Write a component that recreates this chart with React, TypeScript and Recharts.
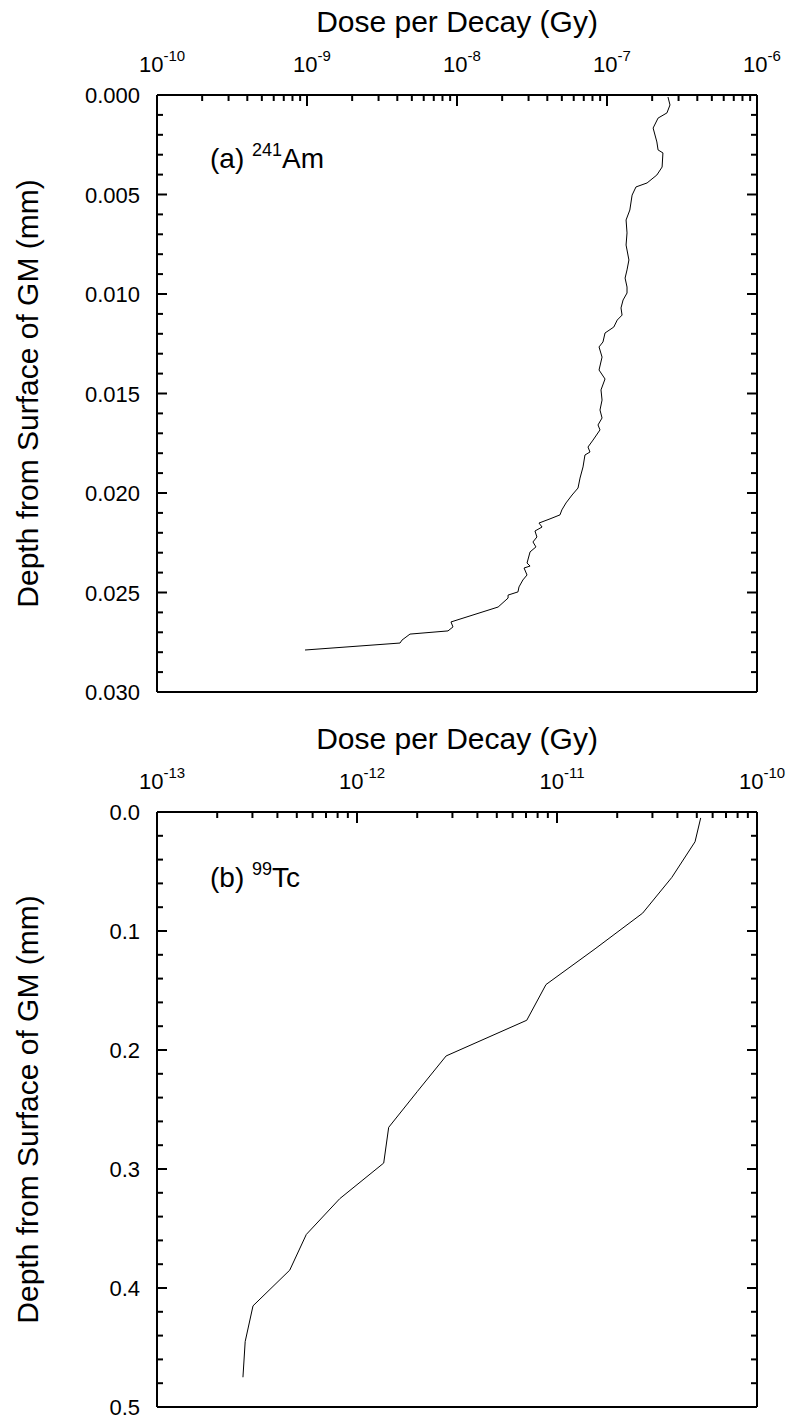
import { LineChart, Line, XAxis, YAxis, Label } from "recharts";

// (a) 241Am — depth (mm) vs dose per decay (Gy)
const amDepth = [
  0.0001, 0.0005, 0.0009, 0.00116, 0.00166, 0.00236, 0.00276, 0.00291, 0.00362, 0.00402,
  0.00442, 0.00462, 0.00503, 0.00578, 0.00628, 0.00693, 0.00754, 0.00829, 0.00879, 0.0092,
  0.00965, 0.00995, 0.0103, 0.0107, 0.01106, 0.01131, 0.01166, 0.01196, 0.01241, 0.01266,
  0.01317, 0.01382, 0.01427, 0.01482, 0.01533, 0.01583, 0.01623, 0.01658, 0.01683, 0.01734,
  0.01769, 0.01794, 0.01809, 0.01869, 0.01925, 0.01975, 0.0201, 0.0205, 0.02085, 0.0211,
  0.0213, 0.02151, 0.02171, 0.02191, 0.02221, 0.02246, 0.02271, 0.02296, 0.02352, 0.02367,
  0.02377, 0.02412, 0.02437, 0.02472, 0.02497, 0.02513, 0.02528, 0.02573, 0.02648, 0.02673,
  0.02693, 0.02709, 0.02739, 0.02754, 0.02789,
];
const amDose = [
  2.55e-7, 2.63e-7, 2.51e-7, 2.19e-7, 2.03e-7, 2.15e-7, 2.19e-7, 2.36e-7, 2.33e-7, 2.15e-7,
  1.85e-7, 1.56e-7, 1.47e-7, 1.42e-7, 1.34e-7, 1.36e-7, 1.34e-7, 1.4e-7, 1.36e-7, 1.32e-7,
  1.36e-7, 1.36e-7, 1.28e-7, 1.24e-7, 1.26e-7, 1.17e-7, 1.11e-7, 9.7e-8, 9.4e-8, 8.85e-8,
  9.27e-8, 8.85e-8, 9.7e-8, 9.12e-8, 9.27e-8, 8.98e-8, 9.27e-8, 8.71e-8, 8.98e-8, 8.07e-8,
  7.47e-8, 7.7e-8, 7.13e-8, 6.92e-8, 6.61e-8, 6.41e-8, 5.85e-8, 5.33e-8, 5.0e-8, 4.86e-8,
  4.17e-8, 3.52e-8, 3.69e-8, 3.31e-8, 3.41e-8, 3.21e-8, 3.36e-8, 3.07e-8, 2.93e-8, 3.07e-8,
  2.8e-8, 2.93e-8, 2.75e-8, 2.59e-8, 2.55e-8, 2.19e-8, 2.19e-8, 1.88e-8, 9.12e-9, 9.4e-9,
  8.71e-9, 4.86e-9, 4.3e-9, 4.17e-9, 9.7e-10,
];

// (b) 99Tc
const tcDepth = [
  0.005, 0.025, 0.055, 0.085, 0.115, 0.145, 0.175, 0.205, 0.235, 0.265, 0.295, 0.325, 0.355,
  0.385, 0.415, 0.445, 0.475,
];
const tcDose = [
  5.23e-11, 4.9e-11, 3.75e-11, 2.68e-11, 1.55e-11, 8.81e-12, 7.06e-12, 2.79e-12, 2.0e-12,
  1.44e-12, 1.36e-12, 8.19e-13, 5.58e-13, 4.61e-13, 3.02e-13, 2.76e-13, 2.69e-13,
];

// axis ranges and major tick steps
const amDoseDecades = [-10, -6];
const tcDoseDecades = [-13, -10];
const amDepthMajor = [0, 0.005, 0.01, 0.015, 0.02, 0.025, 0.03];
const tcDepthMajor = [0, 0.1, 0.2, 0.3, 0.4, 0.5];

const amData = amDepth.map((d, i) => ({ depth: d, dose: amDose[i] }));
const tcData = tcDepth.map((d, i) => ({ depth: d, dose: tcDose[i] }));

const FONT = "Arial, 'Liberation Sans', Helvetica, sans-serif";

function logTicks([lo, hi]: number[]) {
  const out: number[] = [];
  for (let k = lo; k < hi; k++) {
    for (let m = 1; m < 10; m++) out.push(m * Math.pow(10, k));
  }
  out.push(Math.pow(10, hi));
  return out;
}

function linTicks(major: number[]) {
  const out: number[] = [];
  for (let i = 0; i < major.length - 1; i++) {
    const step = (major[i + 1] - major[i]) / 5;
    for (let j = 0; j < 5; j++) out.push(major[i] + j * step);
  }
  out.push(major[major.length - 1]);
  return out;
}

const isDecade = (v: number) => {
  const lg = Math.log10(v);
  return Math.abs(lg - Math.round(lg)) < 1e-6;
};

const TopTick = (props: any) => {
  const { x, y, payload } = props;
  const major = isDecade(payload.value);
  return (
    <g>
      <line x1={x} x2={x} y1={y} y2={y + (major ? 11 : 6)} stroke="#000" strokeWidth={2} />
      {major && (
        <text x={x + 5} y={y - 23} textAnchor="middle" fontSize={22} fill="#000" fontFamily={FONT}>
          10
          <tspan dy={-11} fontSize={15}>
            {Math.round(Math.log10(payload.value))}
          </tspan>
        </text>
      )}
    </g>
  );
};

const BottomTick = (props: any) => {
  const { x, y, payload } = props;
  const major = isDecade(payload.value);
  return <line x1={x} x2={x} y1={y} y2={y - (major ? 11 : 6)} stroke="#000" strokeWidth={2} />;
};

const makeLeftTick = (major: number[], digits: number) => (props: any) => {
  const { x, y, payload } = props;
  const isMajor = major.some((m) => Math.abs(m - payload.value) < 1e-9);
  return (
    <g>
      <line x1={x} x2={x + (isMajor ? 10 : 6)} y1={y} y2={y} stroke="#000" strokeWidth={2} />
      {isMajor && (
        <text x={x - 17} y={y + 8} textAnchor="end" fontSize={22} fill="#000" fontFamily={FONT}>
          {payload.value.toFixed(digits)}
        </text>
      )}
    </g>
  );
};

const makeRightTick = (major: number[]) => (props: any) => {
  const { x, y, payload } = props;
  const isMajor = major.some((m) => Math.abs(m - payload.value) < 1e-9);
  return <line x1={x} x2={x - (isMajor ? 10 : 6)} y1={y} y2={y} stroke="#000" strokeWidth={2} />;
};

const XTitle = (props: any) => {
  const vb = props.viewBox;
  return (
    <text x={vb.x + vb.width / 2} y={vb.y + vb.height - 63} textAnchor="middle" fontSize={30} fill="#000" fontFamily={FONT}>
      Dose per Decay (Gy)
    </text>
  );
};

const YTitle = (props: any) => {
  const vb = props.viewBox;
  const cx = vb.x + vb.width - 119;
  const cy = vb.y + vb.height / 2;
  return (
    <text x={cx} y={cy} transform={`rotate(-90, ${cx}, ${cy})`} textAnchor="middle" fontSize={30} fill="#000" fontFamily={FONT}>
      Depth from Surface of GM (mm)
    </text>
  );
};

const axisLine = { stroke: "#000", strokeWidth: 2 };

interface PanelProps {
  data: { depth: number; dose: number }[];
  decades: number[];
  depthMajor: number[];
  digits: number;
  height: number;
  top: number;
  bottomAxis: number;
  label: string;
  isotope: string;
  labelY: number;
}

function Panel({ data, decades, depthMajor, digits, height, top, bottomAxis, label, isotope, labelY }: PanelProps) {
  const xTicks = logTicks(decades);
  const yTicks = linTicks(depthMajor);
  const xDomain = [Math.pow(10, decades[0]), Math.pow(10, decades[1])];
  const yDomain = [depthMajor[0], depthMajor[depthMajor.length - 1]];
  return (
    <LineChart width={787} height={height} data={data} margin={{ top, right: 0, bottom: 0, left: 57 }}>
      <XAxis
        dataKey="dose"
        type="number"
        scale="log"
        orientation="top"
        domain={xDomain}
        allowDataOverflow
        ticks={xTicks}
        interval={0}
        height={60}
        tickSize={0}
        tickMargin={0}
        tickLine={false}
        axisLine={axisLine}
        tick={TopTick}
      >
        <Label content={XTitle} />
      </XAxis>
      <XAxis
        xAxisId="b"
        type="number"
        scale="log"
        orientation="bottom"
        domain={xDomain}
        allowDataOverflow
        ticks={xTicks}
        interval={0}
        height={bottomAxis}
        tickSize={0}
        tickMargin={0}
        tickLine={false}
        axisLine={axisLine}
        tick={BottomTick}
      />
      <YAxis
        type="number"
        reversed
        domain={yDomain}
        allowDataOverflow
        ticks={yTicks}
        interval={0}
        width={100}
        tickSize={0}
        tickMargin={0}
        tickLine={false}
        axisLine={axisLine}
        tick={makeLeftTick(depthMajor, digits)}
      >
        <Label content={YTitle} />
      </YAxis>
      <YAxis
        yAxisId="r"
        orientation="right"
        type="number"
        reversed
        domain={yDomain}
        allowDataOverflow
        ticks={yTicks}
        interval={0}
        width={30}
        tickSize={0}
        tickMargin={0}
        tickLine={false}
        axisLine={axisLine}
        tick={makeRightTick(depthMajor)}
      />
      <Line type="linear" dataKey="depth" stroke="#000" strokeWidth={1} dot={false} isAnimationActive={false} />
      <text x={210} y={labelY} fontSize={28} fill="#000" fontFamily={FONT}>
        {label}{" "}
        <tspan dy={-12} fontSize={18}>
          {isotope.match(/^\d+/)?.[0]}
        </tspan>
        <tspan dy={12}>{isotope.replace(/^\d+/, "")}</tspan>
      </text>
    </LineChart>
  );
}

export default function App() {
  return (
    <div style={{ position: "absolute", left: 0, top: 0, width: 787, height: 1420, background: "#fff" }}>
      <Panel
        data={amData}
        decades={amDoseDecades}
        depthMajor={amDepthMajor}
        digits={3}
        height={720}
        top={35}
        bottomAxis={28}
        label="(a)"
        isotope="241Am"
        labelY={168}
      />
      <Panel
        data={tcData}
        decades={tcDoseDecades}
        depthMajor={tcDepthMajor}
        digits={1}
        height={700}
        top={32}
        bottomAxis={13}
        label="(b)"
        isotope="99Tc"
        labelY={167}
      />
    </div>
  );
}
